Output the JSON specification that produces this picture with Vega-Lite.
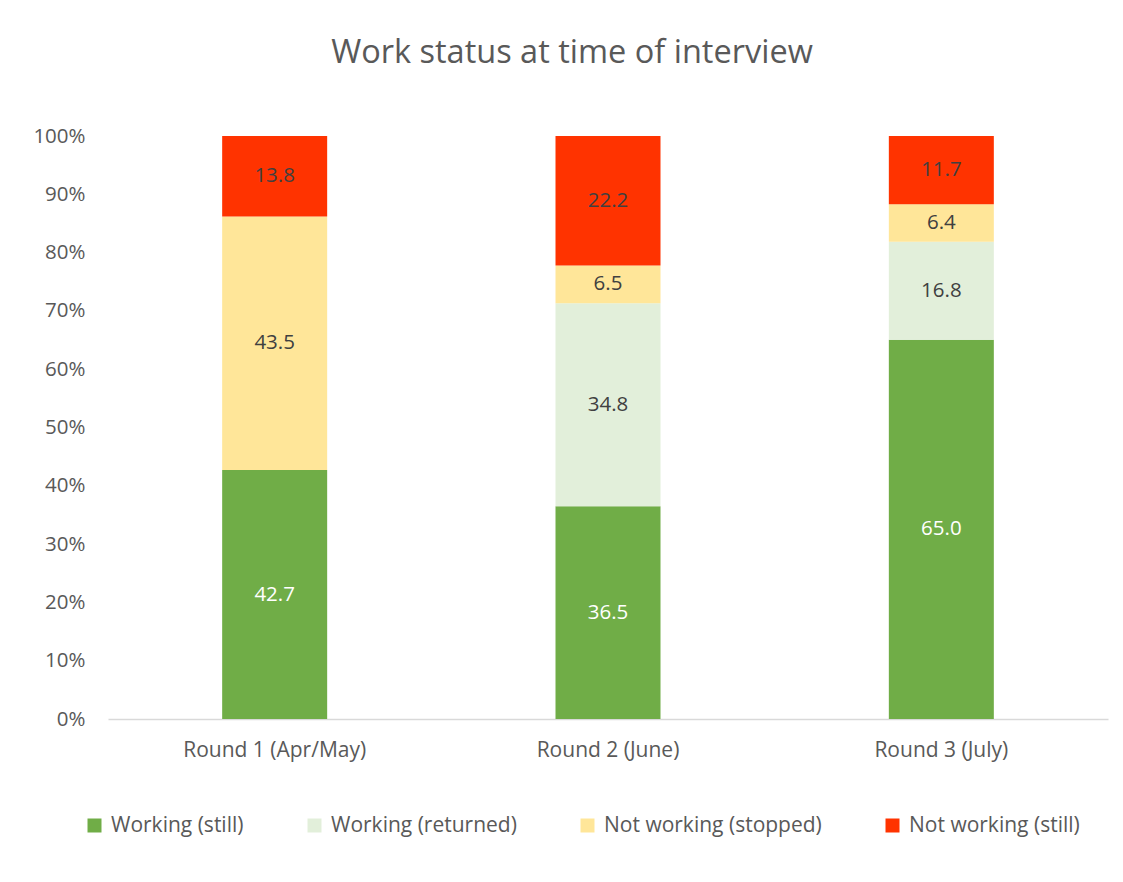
{
  "$schema": "https://vega.github.io/schema/vega-lite/v6.json",
  "autosize": "none",
  "width": 1000,
  "height": 583,
  "padding": {"left": 108, "top": 136, "right": 15, "bottom": 163},
  "background": "white",
  "title": {
    "text": "Work status at time of interview",
    "font": "Open Sans",
    "fontSize": 32.5,
    "fontWeight": "normal",
    "color": "#595959",
    "anchor": "middle",
    "frame": "group",
    "dx": -36,
    "offset": 57
  },
  "data": {
    "values": [
      {"round": "Round 1 (Apr/May)", "status": "Working (still)", "order": 1, "value": 42.7},
      {"round": "Round 1 (Apr/May)", "status": "Not working (stopped)", "order": 3, "value": 43.5},
      {"round": "Round 1 (Apr/May)", "status": "Not working (still)", "order": 4, "value": 13.8},
      {"round": "Round 2 (June)", "status": "Working (still)", "order": 1, "value": 36.5},
      {"round": "Round 2 (June)", "status": "Working (returned)", "order": 2, "value": 34.8},
      {"round": "Round 2 (June)", "status": "Not working (stopped)", "order": 3, "value": 6.5},
      {"round": "Round 2 (June)", "status": "Not working (still)", "order": 4, "value": 22.2},
      {"round": "Round 3 (July)", "status": "Working (still)", "order": 1, "value": 65.0},
      {"round": "Round 3 (July)", "status": "Working (returned)", "order": 2, "value": 16.8},
      {"round": "Round 3 (July)", "status": "Not working (stopped)", "order": 3, "value": 6.4},
      {"round": "Round 3 (July)", "status": "Not working (still)", "order": 4, "value": 11.7}
    ]
  },
  "transform": [
    {"stack": "value", "groupby": ["round"], "sort": [{"field": "order", "order": "ascending"}], "offset": "normalize", "as": ["y0", "y1"]}
  ],
  "encoding": {
    "x": {
      "field": "round",
      "type": "nominal",
      "sort": null,
      "scale": {"paddingInner": 0.685, "paddingOuter": 0.3425},
      "axis": {
        "title": null,
        "labelAngle": 0,
        "labelFont": "Open Sans",
        "labelFontSize": 21,
        "labelLimit": 400,
        "labelColor": "#595959",
        "labelPadding": 20,
        "ticks": false,
        "domainColor": "#d9d9d9",
        "domainWidth": 1.5
      }
    }
  },
  "layer": [
    {
      "mark": {"type": "bar"},
      "encoding": {
        "y": {
          "field": "y0",
          "type": "quantitative",
          "scale": {"domain": [0, 1], "nice": false},
          "axis": {
            "title": null,
            "values": [0, 0.1, 0.2, 0.3, 0.4, 0.5, 0.6, 0.7, 0.8, 0.9, 1],
            "format": ".0%",
            "grid": false,
            "domain": false,
            "ticks": false,
            "labelFont": "Open Sans",
            "labelFontSize": 20.5,
            "labelColor": "#595959",
            "labelPadding": 23
          }
        },
        "y2": {"field": "y1"},
        "color": {
          "field": "status",
          "type": "nominal",
          "scale": {
            "domain": ["Working (still)", "Working (returned)", "Not working (stopped)", "Not working (still)"],
            "range": ["#70ad47", "#e2efda", "#ffe699", "#ff3300"]
          },
          "legend": {
            "title": null,
            "orient": "none",
            "legendX": -24,
            "legendY": 679,
            "direction": "horizontal",
            "symbolType": "square",
            "symbolSize": 196,
            "symbolStrokeWidth": 0,
            "labelFont": "Open Sans",
            "labelFontSize": 21,
            "labelLimit": 400,
            "labelColor": "#595959",
            "labelOffset": 6,
            "columnPadding": 60,
            "gridAlign": "none"
          }
        }
      }
    },
    {
      "transform": [{"fold": ["y0", "y1"], "as": ["k", "pos"]}],
      "mark": {"type": "text", "font": "Open Sans", "fontSize": 20.5},
      "encoding": {
        "y": {"field": "pos", "type": "quantitative", "aggregate": "mean"},
        "detail": {"field": "status", "type": "nominal"},
        "text": {"field": "value", "type": "quantitative", "format": ".1f"},
        "color": {
          "condition": {"test": "datum.status === 'Working (still)'", "value": "white"},
          "value": "#404040"
        }
      }
    }
  ],
  "config": {"view": {"stroke": null}}
}
